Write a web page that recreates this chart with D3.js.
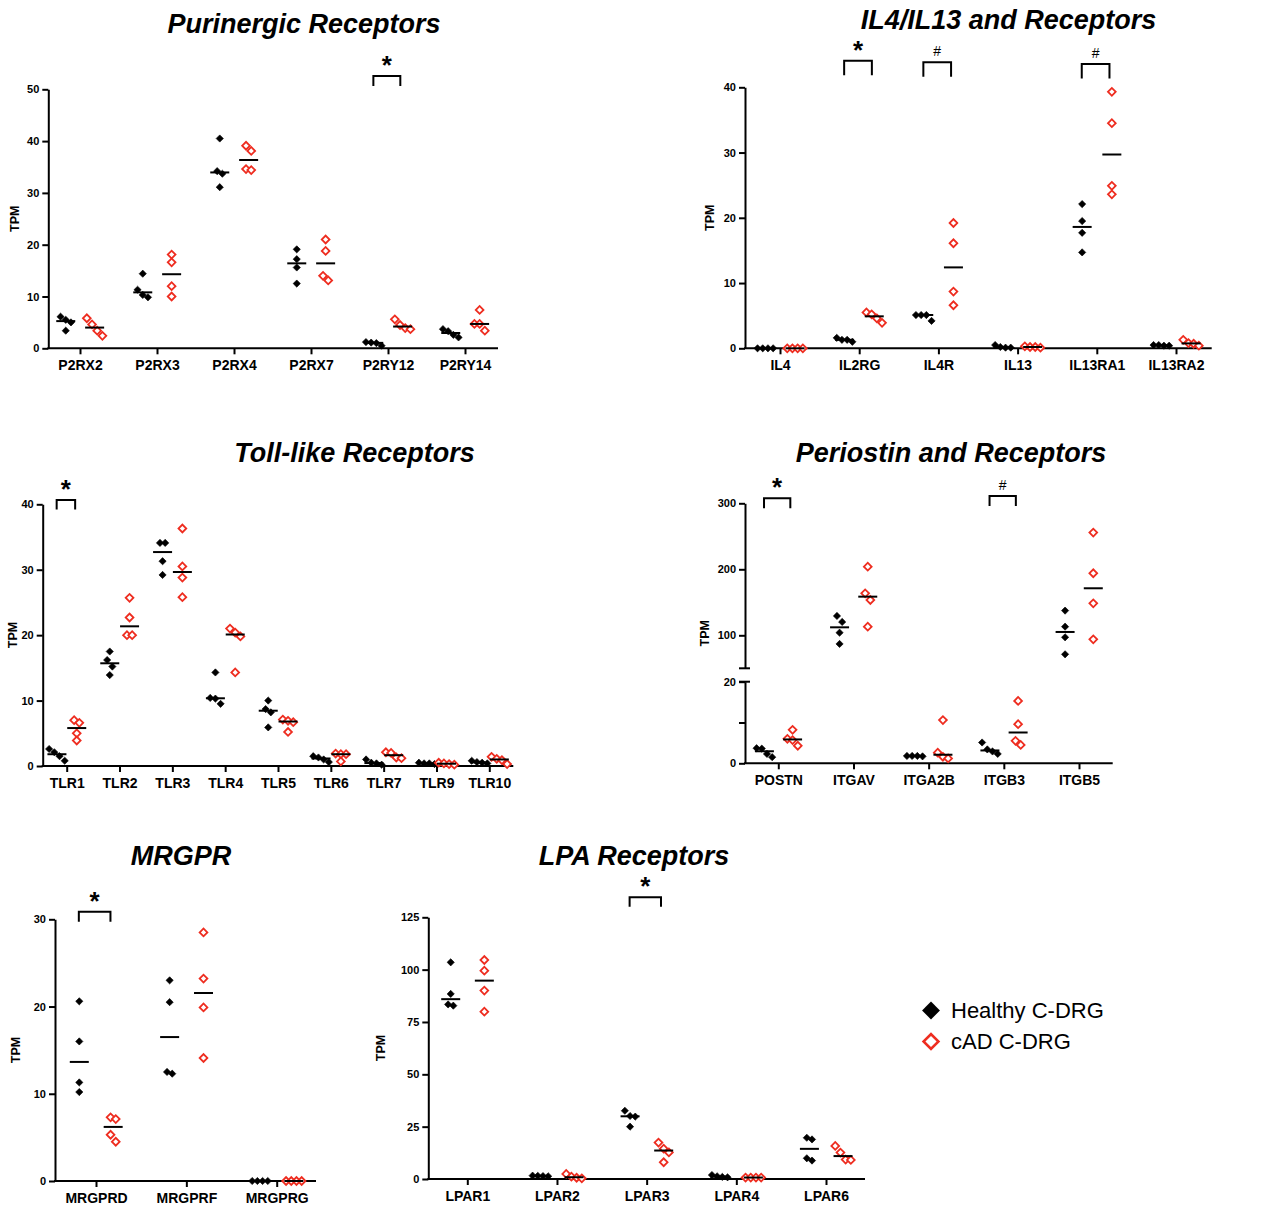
<!DOCTYPE html>
<html>
<head>
<meta charset="utf-8">
<script src="https://cdn.jsdelivr.net/npm/d3@7"></script>
<style>
  html, body { margin: 0; padding: 0; background: #fff; }
  svg { display: block; }
</style>
</head>
<body>
<svg id="chart" width="1277" height="1209"></svg>
<script>
// ---------------- DATA ----------------
const purinergicGenes = ["P2RX2", "P2RX3", "P2RX4", "P2RX7", "P2RY12", "P2RY14"];
const purinergicHealthy = [[6.1, 5.5, 5.0, 3.4], [14.4, 11.3, 10.3, 9.85], [40.5, 34.2, 33.7, 31.1], [19.1, 17.2, 15.6, 12.5], [1.2, 1.1, 1.0, 0.5], [3.7, 3.3, 2.6, 2.1]];
const purinergicCAD = [[5.8, 4.6, 3.4, 2.4], [18.1, 16.6, 12.0, 10.0], [39.1, 38.1, 34.6, 34.4], [21.0, 18.8, 14.0, 13.1], [5.6, 4.5, 3.9, 3.7], [7.4, 4.7, 4.7, 3.4]];
const purinergicTicks = [0, 10, 20, 30, 40, 50];
const purinergicSig = [{ gene: "P2RY12", mark: "*" }];

const ilGenes = ["IL4", "IL2RG", "IL4R", "IL13", "IL13RA1", "IL13RA2"];
const ilHealthy = [[0, 0, 0, 0], [1.6, 1.3, 1.3, 1.0], [5.1, 5.1, 5.1, 4.2], [0.5, 0.2, 0.1, 0.1], [22.1, 19.5, 17.7, 14.7], [0.5, 0.5, 0.4, 0.4]];
const ilCAD = [[0, 0, 0, 0], [5.5, 5.2, 4.6, 3.9], [19.2, 16.1, 8.7, 6.6], [0.3, 0.2, 0.2, 0.1], [39.3, 34.5, 24.9, 23.6], [1.3, 0.8, 0.7, 0.4]];
const ilTicks = [0, 10, 20, 30, 40];
const ilSig = [{ gene: "IL2RG", mark: "*" }, { gene: "IL4R", mark: "#" }, { gene: "IL13RA1", mark: "#" }];

const tlrGenes = ["TLR1", "TLR2", "TLR3", "TLR4", "TLR5", "TLR6", "TLR7", "TLR9", "TLR10"];
const tlrHealthy = [[2.6, 2.1, 1.5, 0.8], [17.5, 16.2, 15.2, 13.9], [34.1, 34.1, 31.3, 29.2], [14.3, 10.4, 10.3, 9.5], [10.0, 8.7, 8.2, 5.9], [1.5, 1.3, 1.0, 0.6], [1.0, 0.5, 0.4, 0.2], [0.5, 0.4, 0.4, 0.3], [0.8, 0.6, 0.5, 0.4]];
const tlrCAD = [[7.0, 6.6, 5.0, 3.9], [25.7, 22.7, 20.0, 20.0], [36.3, 30.5, 28.8, 25.8], [21.0, 20.4, 19.8, 14.3], [7.1, 6.9, 6.7, 5.2], [1.9, 1.8, 1.8, 0.7], [2.1, 2.0, 1.3, 1.2], [0.5, 0.4, 0.3, 0.2], [1.4, 1.1, 0.9, 0.3]];
const tlrTicks = [0, 10, 20, 30, 40];
const tlrSig = [{ gene: "TLR1", mark: "*" }];

const postnGenes = ["POSTN", "ITGAV", "ITGA2B", "ITGB3", "ITGB5"];
const postnHealthy = [[3.7, 3.6, 2.3, 1.5], [129.3, 120.2, 104, 86.9], [1.8, 1.8, 1.8, 1.7], [5.1, 3.4, 2.9, 2.3], [137.4, 113.1, 97, 71.2]];
const postnCAD = [[8.2, 6.0, 5.7, 4.3], [204, 163.6, 153.5, 113], [10.6, 2.6, 1.6, 1.2], [15.3, 9.6, 5.5, 4.5], [255.6, 194, 148.5, 93.9]];
const postnTicksLow = [0, 10, 20];
const postnTickLabelsLow = ["0", "", "20"];
const postnTicksHigh = [100, 200, 300];
const postnDomainLow = [0, 20];
const postnDomainHigh = [50, 300];
const postnSig = [{ gene: "POSTN", mark: "*" }, { gene: "ITGB3", mark: "#" }];

const mrgprGenes = ["MRGPRD", "MRGPRF", "MRGPRG"];
const mrgprHealthy = [[20.6, 16.0, 11.3, 10.2], [23.0, 20.5, 12.5, 12.3], [0, 0, 0, 0]];
const mrgprCAD = [[7.3, 7.1, 5.3, 4.5], [28.5, 23.2, 19.9, 14.1], [0, 0, 0, 0]];
const mrgprTicks = [0, 10, 20, 30];
const mrgprSig = [{ gene: "MRGPRD", mark: "*" }];

const lpaGenes = ["LPAR1", "LPAR2", "LPAR3", "LPAR4", "LPAR6"];
const lpaHealthy = [[103.5, 88.4, 83.4, 82.8], [1.6, 1.5, 1.4, 1.3], [32.6, 30.1, 29.8, 25.0], [1.9, 1.3, 1.0, 0.8], [19.7, 18.9, 9.9, 8.8]];
const lpaCAD = [[104.6, 99.5, 90, 79.9], [2.4, 1.1, 0.6, 0.3], [17.4, 14.5, 12.7, 8.0], [0.7, 0.7, 0.7, 0.7], [15.8, 12.6, 9.3, 9.1]];
const lpaTicks = [0, 25, 50, 75, 100, 125];
const lpaSig = [{ gene: "LPAR3", mark: "*" }];

const groupNames = ["Healthy C-DRG", "cAD C-DRG"];
const yLabel = "TPM";

// ---------------- STYLE / LAYOUT ----------------
const FONT = "'Liberation Sans', Arial, Helvetica, sans-serif";
const RED = "#ee2d20";
const svg = d3.select("#chart");

const diamond = d3.symbol().type(d3.symbolSquare);

function spreadOffsets(vals, y, s, thr) {
  const items = vals.map((v, i) => ({ v, i, py: y(v) })).sort((a, b) => a.py - b.py || a.i - b.i);
  const clusters = [];
  items.forEach(it => {
    const last = clusters[clusters.length - 1];
    if (last && it.py - last[last.length - 1].py < thr) last.push(it);
    else clusters.push([it]);
  });
  const off = new Array(vals.length).fill(0);
  clusters.forEach(c => {
    const n = c.length;
    c.forEach((it, k) => { off[it.i] = (k - (n - 1) / 2) * s; });
  });
  return off;
}

function drawPanel(cfg) {
  const g = svg.append("g");
  const x = d3.scalePoint().domain(cfg.genes).range([cfg.x0, cfg.x1]);
  const step = x.step();
  const y = cfg.y;

  // title
  g.append("text").attr("x", cfg.titleX).attr("y", cfg.titleY)
    .attr("text-anchor", "middle").attr("font-family", FONT)
    .attr("font-size", 27).attr("font-weight", "bold").attr("font-style", "italic")
    .attr("fill", "#000").text(cfg.title);

  // y label
  g.append("text").attr("transform", `translate(${cfg.yLabelX},${cfg.yLabelY}) rotate(-90)`)
    .attr("text-anchor", "middle").attr("dominant-baseline", "middle")
    .attr("font-family", FONT).attr("font-size", 12.5).attr("font-weight", "bold")
    .text(yLabel);

  // y axes
  cfg.yAxes.forEach(ax => {
    const a = d3.axisLeft(ax.scale).tickValues(ax.ticks).tickSize(6).tickSizeOuter(0).tickPadding(3);
    if (ax.labels) a.tickFormat((d, i) => ax.labels[i]);
    const ag = g.append("g").attr("transform", `translate(${cfg.axisX},0)`).call(a);
    ag.select(".domain").attr("stroke-width", 2).attr("stroke", "#000");
    ag.selectAll(".tick line").attr("stroke-width", 2).attr("stroke", "#000");
    ag.selectAll(".tick text").attr("font-family", FONT).attr("font-size", 11).attr("font-weight", "bold").attr("fill", "#000");
  });
  // break marks
  (cfg.breaks || []).forEach(by => {
    g.append("line").attr("x1", cfg.axisX - 6).attr("x2", cfg.axisX + 5)
      .attr("y1", by).attr("y2", by).attr("stroke", "#000").attr("stroke-width", 2);
  });

  // x axis
  const xb = d3.axisBottom(x).tickSize(6).tickSizeOuter(0).tickPadding(6);
  const xg = g.append("g").attr("transform", `translate(0,${cfg.axisY})`).call(xb);
  xg.select(".domain").remove();
  xg.selectAll(".tick line").attr("stroke-width", 2).attr("stroke", "#000");
  xg.selectAll(".tick text").attr("font-family", FONT).attr("font-size", 14).attr("font-weight", "bold").attr("fill", "#000");
  g.append("line").attr("x1", cfg.axisX - 1).attr("x2", cfg.axisEnd)
    .attr("y1", cfg.axisY).attr("y2", cfg.axisY).attr("stroke", "#000").attr("stroke-width", 2);

  // points + medians
  const groups = [
    { data: cfg.healthy, off: -0.185 * step, filled: true },
    { data: cfg.cad, off: 0.19 * step, filled: false }
  ];
  const s = 5.2;
  groups.forEach(gr => {
    cfg.genes.forEach((gene, gi) => {
      const vals = gr.data[gi];
      const cx = x(gene) + gr.off;
      const offs = spreadOffsets(vals, y, s, 7);
      const med = d3.median(vals);
      vals.forEach((v, k) => {
        const px = cx + offs[k], py = y(v);
        g.append("path")
          .attr("d", diamond.size(gr.filled ? 26 : 30)())
          .attr("transform", `translate(${px},${py}) rotate(45)`)
          .attr("fill", gr.filled ? "#000" : "#fff")
          .attr("stroke", gr.filled ? "#000" : RED)
          .attr("stroke-width", gr.filled ? 0.6 : 1.8);
      });
      g.append("line").attr("x1", cx - 9.5).attr("x2", cx + 9.5)
        .attr("y1", y(med)).attr("y2", y(med)).attr("stroke", "#000").attr("stroke-width", 2);
    });
  });

  // significance brackets
  cfg.sig.forEach((sg, i) => {
    const c = x(sg.gene);
    const l = c - 0.19 * step, r = c + 0.16 * step;
    const top = cfg.bracketTop[i], bot = top + cfg.bracketLeg;
    g.append("path").attr("d", `M${l},${bot}V${top}H${r}V${bot}`)
      .attr("fill", "none").attr("stroke", "#000").attr("stroke-width", 2);
    const isStar = sg.mark === "*";
    g.append("text").attr("x", (l + r) / 2).attr("y", isStar ? top - 2 : top - 6)
      .attr("text-anchor", "middle").attr("font-family", FONT)
      .attr("font-size", isStar ? 26 : 14).attr("font-weight", isStar ? "bold" : "normal")
      .text(sg.mark);
  });
}

// Panel 1
const y1 = d3.scaleLinear().domain([0, 50]).range([348.3, 89.3]);
drawPanel({ title: "Purinergic Receptors", titleX: 304, titleY: 33.3,
  genes: purinergicGenes, healthy: purinergicHealthy, cad: purinergicCAD,
  x0: 80, x1: 465, axisX: 48.3, axisEnd: 498, axisY: 348.3, y: y1,
  yAxes: [{ scale: y1, ticks: purinergicTicks }], yLabelX: 16, yLabelY: 218.8,
  sig: purinergicSig, bracketTop: [76], bracketLeg: 10 });

// Panel 2
const y2 = d3.scaleLinear().domain([0, 40]).range([348.3, 87.3]);
drawPanel({ title: "IL4/IL13 and Receptors", titleX: 1008.5, titleY: 29.3,
  genes: ilGenes, healthy: ilHealthy, cad: ilCAD,
  x0: 780, x1: 1176, axisX: 745, axisEnd: 1211.7, axisY: 348.3, y: y2,
  yAxes: [{ scale: y2, ticks: ilTicks }], yLabelX: 711, yLabelY: 217.8,
  sig: ilSig, bracketTop: [60.7, 62.3, 64], bracketLeg: 14.5 });

// Panel 3
const y3 = d3.scaleLinear().domain([0, 40]).range([766, 504.3]);
drawPanel({ title: "Toll-like Receptors", titleX: 354.5, titleY: 461.5,
  genes: tlrGenes, healthy: tlrHealthy, cad: tlrCAD,
  x0: 66.7, x1: 489.3, axisX: 42.7, axisEnd: 513.3, axisY: 766, y: y3,
  yAxes: [{ scale: y3, ticks: tlrTicks }], yLabelX: 14, yLabelY: 635,
  sig: tlrSig, bracketTop: [500], bracketLeg: 9.5 });

// Panel 4 (broken axis)
const y4low = d3.scaleLinear().domain(postnDomainLow).range([763.3, 681.7]);
const y4high = d3.scaleLinear().domain(postnDomainHigh).range([668.3, 503.3]);
const y4 = v => (v <= postnDomainLow[1] ? y4low(v) : y4high(v));
drawPanel({ title: "Periostin and Receptors", titleX: 951, titleY: 461.5,
  genes: postnGenes, healthy: postnHealthy, cad: postnCAD,
  x0: 778.3, x1: 1079, axisX: 745, axisEnd: 1112.7, axisY: 763.3, y: y4,
  yAxes: [{ scale: y4low, ticks: postnTicksLow, labels: postnTickLabelsLow }, { scale: y4high, ticks: postnTicksHigh }],
  breaks: [y4high(postnDomainHigh[0]), y4low(postnDomainLow[1])],
  yLabelX: 706, yLabelY: 633.3,
  sig: postnSig, bracketTop: [498.3, 496], bracketLeg: 10 });

// Panel 5
const y5 = d3.scaleLinear().domain([0, 30]).range([1181, 919.3]);
drawPanel({ title: "MRGPR", titleX: 181, titleY: 864.5,
  genes: mrgprGenes, healthy: mrgprHealthy, cad: mrgprCAD,
  x0: 96, x1: 276.7, axisX: 55, axisEnd: 316, axisY: 1181, y: y5,
  yAxes: [{ scale: y5, ticks: mrgprTicks }], yLabelX: 17, yLabelY: 1050,
  sig: mrgprSig, bracketTop: [911.7], bracketLeg: 10 });

// Panel 6
const y6 = d3.scaleLinear().domain([0, 125]).range([1179, 917.3]);
drawPanel({ title: "LPA Receptors", titleX: 634, titleY: 864.5,
  genes: lpaGenes, healthy: lpaHealthy, cad: lpaCAD,
  x0: 467.3, x1: 826, axisX: 428.3, axisEnd: 865, axisY: 1179, y: y6,
  yAxes: [{ scale: y6, ticks: lpaTicks }], yLabelX: 382, yLabelY: 1048,
  sig: lpaSig, bracketTop: [897.3], bracketLeg: 9.5 });

// Legend
const legend = svg.append("g");
groupNames.forEach((name, i) => {
  const ly = 1010.5 + i * 31;
  legend.append("path").attr("d", diamond.size(i === 0 ? 160 : 110)())
    .attr("transform", `translate(931,${ly}) rotate(45)`)
    .attr("fill", i === 0 ? "#000" : "#fff")
    .attr("stroke", i === 0 ? "#000" : RED)
    .attr("stroke-width", i === 0 ? 0 : 2.6);
  legend.append("text").attr("x", 951).attr("y", ly + 7.5)
    .attr("font-family", FONT).attr("font-size", 22).attr("fill", "#000").text(name);
});
</script>
</body>
</html>
